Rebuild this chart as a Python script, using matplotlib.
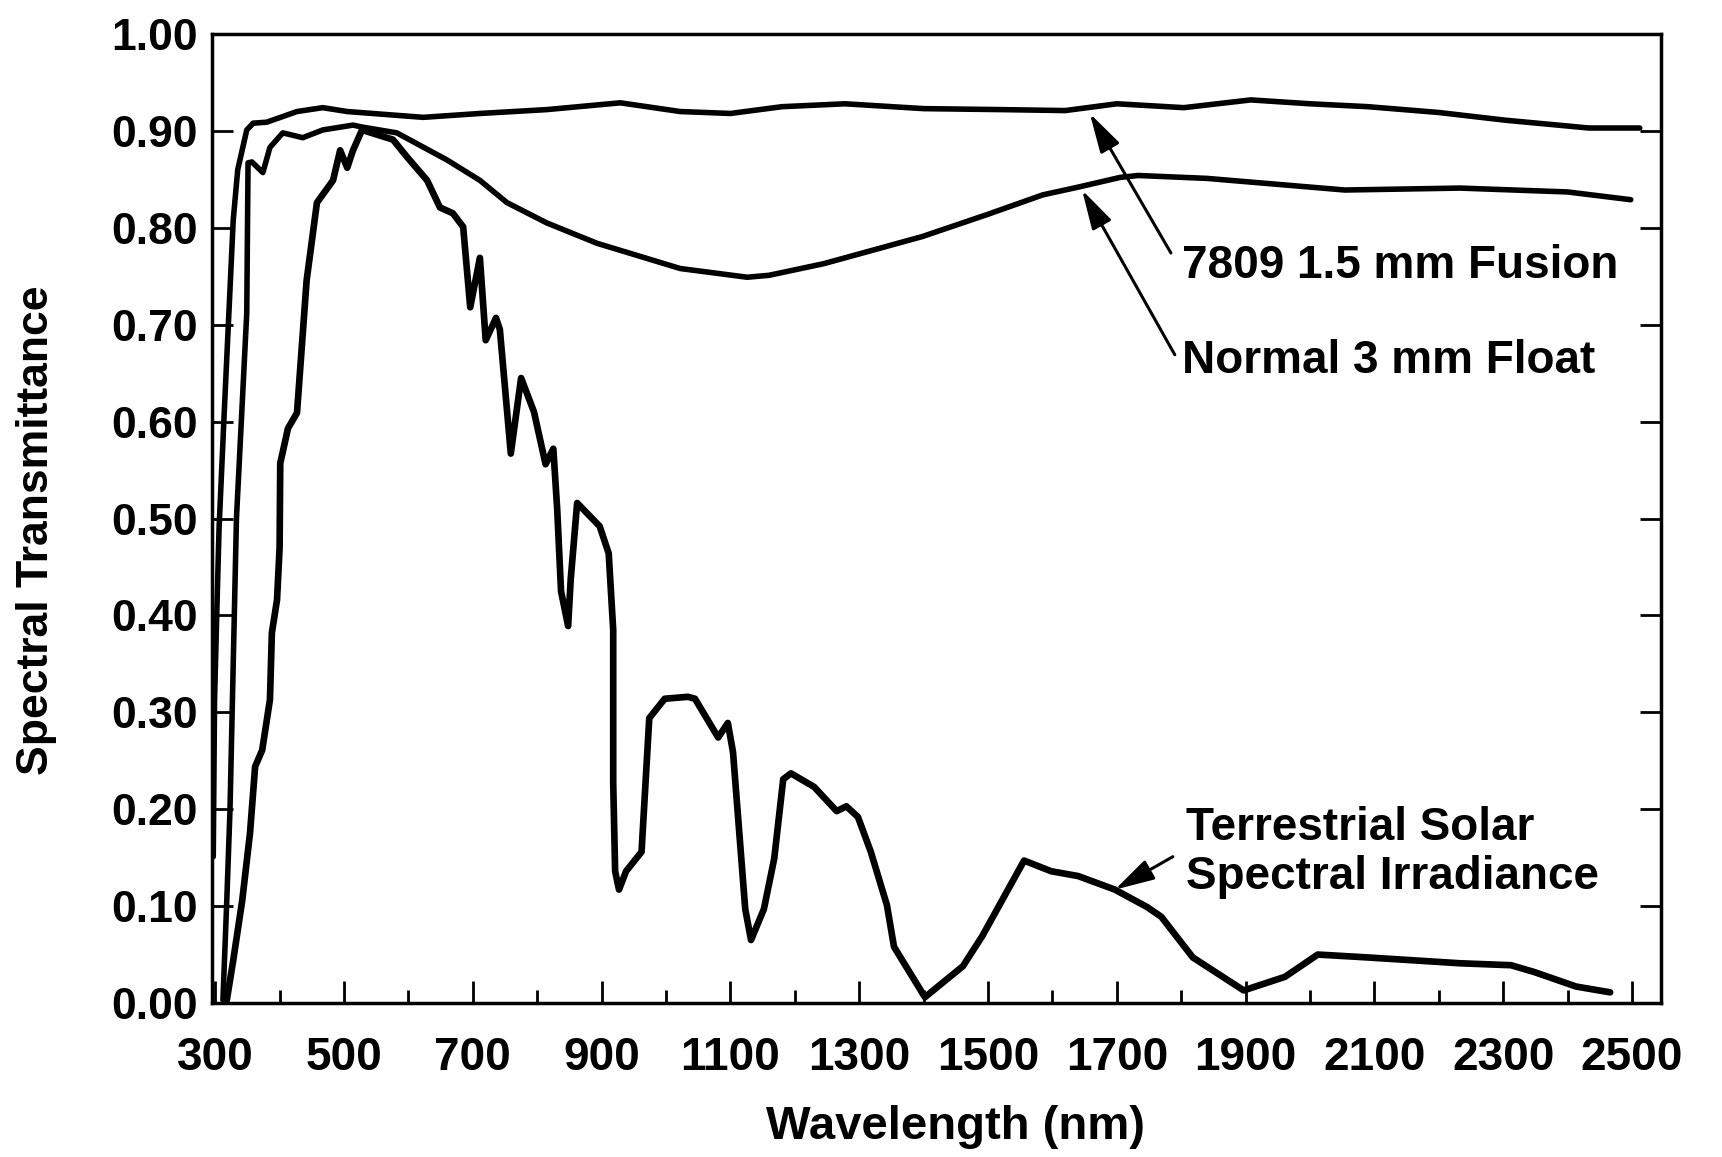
import numpy as np
import matplotlib.pyplot as plt

# 7809 1.5 mm Fusion glass
fusion_nm = [297, 299, 303, 306, 314, 328, 335, 349, 359, 380, 427, 467, 505, 623, 711, 815,
             929, 1022, 1100, 1180, 1278, 1400, 1519, 1620, 1700, 1804, 1908, 2000, 2090,
             2200, 2304, 2433, 2512]
fusion_t = [0.151, 0.313, 0.416, 0.49, 0.609, 0.808, 0.860, 0.901, 0.908, 0.909, 0.920, 0.924,
            0.920, 0.914, 0.918, 0.922, 0.929, 0.920, 0.918, 0.925, 0.928, 0.923, 0.922, 0.921,
            0.928, 0.924, 0.932, 0.928, 0.925, 0.919, 0.911, 0.903, 0.903]

# Normal 3 mm Float glass
float_nm = [312, 318, 323, 333, 349, 351, 357, 374, 385, 405, 436, 467, 514, 528, 582, 660,
            711, 753, 815, 893, 1022, 1126, 1160, 1245, 1398, 1500, 1585, 1640, 1705, 1733,
            1840, 2054, 2233, 2400, 2498]
float_t = [0.003, 0.106, 0.200, 0.50, 0.712, 0.867, 0.868, 0.857, 0.883, 0.898, 0.893, 0.901,
           0.906, 0.904, 0.898, 0.870, 0.849, 0.826, 0.805, 0.784, 0.758, 0.749, 0.751, 0.763,
           0.791, 0.814, 0.834, 0.842, 0.852, 0.854, 0.851, 0.839, 0.841, 0.837, 0.829]

# Terrestrial solar spectral irradiance (relative)
solar_nm = [318, 328, 342, 354, 362, 373, 385, 388, 396, 400, 401, 413, 427, 442, 458, 483,
            494, 505, 514, 528, 576, 598, 629, 649, 669, 685, 696, 711, 720, 736, 742, 759,
            775, 795, 813, 825, 831, 837, 848, 852, 862, 897, 911, 918, 918, 921, 927, 938,
            962, 974, 998, 1034, 1045, 1081, 1096, 1104, 1123, 1132, 1152, 1168, 1182, 1194,
            1230, 1265, 1280, 1298, 1318, 1343, 1354, 1402, 1461, 1491, 1556, 1598, 1640,
            1697, 1747, 1769, 1818, 1897, 1961, 2012, 2090, 2233, 2312, 2348, 2413, 2466]
solar_t = [0.003, 0.044, 0.106, 0.175, 0.244, 0.261, 0.313, 0.382, 0.416, 0.47, 0.557, 0.593,
           0.609, 0.746, 0.826, 0.849, 0.880, 0.862, 0.880, 0.901, 0.891, 0.873, 0.849, 0.821,
           0.815, 0.801, 0.718, 0.769, 0.684, 0.707, 0.695, 0.567, 0.645, 0.610, 0.556, 0.572,
           0.510, 0.425, 0.389, 0.437, 0.516, 0.492, 0.464, 0.385, 0.227, 0.136, 0.117, 0.136,
           0.156, 0.294, 0.314, 0.316, 0.314, 0.274, 0.289, 0.259, 0.097, 0.065, 0.097, 0.149,
           0.231, 0.237, 0.223, 0.198, 0.203, 0.192, 0.156, 0.101, 0.058, 0.006, 0.038, 0.069,
           0.147, 0.136, 0.131, 0.117, 0.099, 0.089, 0.047, 0.013, 0.027, 0.050, 0.047, 0.041,
           0.039, 0.032, 0.017, 0.011]

x_labels = [300, 500, 700, 900, 1100, 1300, 1500, 1700, 1900, 2100, 2300, 2500]
x_minor = [400, 600, 800, 1000, 1200, 1400, 1600, 1800, 2000, 2200, 2400]
y_ticks = [0.0, 0.1, 0.2, 0.3, 0.4, 0.5, 0.6, 0.7, 0.8, 0.9, 1.0]

plt.rcParams['font.family'] = ['Liberation Sans', 'DejaVu Sans']
plt.rcParams['font.weight'] = 'bold'

fig = plt.figure(figsize=(17.22, 11.57), dpi=100)
ax = fig.add_axes([0.1231, 0.1331, 0.8415, 0.8375])

line_kw = dict(color='black', solid_joinstyle='round', solid_capstyle='round')
ax.plot(fusion_nm, fusion_t, lw=4.0, **line_kw)
ax.plot(float_nm, float_t, lw=4.0, **line_kw)
ax.plot(solar_nm, solar_t, lw=4.8, **line_kw)

ax.set_xlim(295, 2545)
ax.set_ylim(0, 1.0)

for s in ax.spines.values():
    s.set_linewidth(2.5)

ax.set_xticks(x_labels)
ax.set_xticklabels([str(v) for v in x_labels], fontsize=33, fontweight='bold')
ax.set_xticks(x_minor, minor=True)
ax.set_yticks(y_ticks)
ax.set_yticklabels(['%.2f' % v for v in y_ticks], fontsize=32, fontweight='bold')

ax.tick_params(axis='x', which='major', direction='in', length=16, width=2, pad=24)
ax.tick_params(axis='x', which='minor', direction='in', length=9.5, width=2)
ax.tick_params(axis='y', which='major', direction='in', length=15, width=2, pad=10,
               right=True)

ax.set_xlabel('Wavelength (nm)', fontsize=34, fontweight='bold')
ax.xaxis.set_label_coords(0.513, -0.105)
ax.set_ylabel('Spectral Transmittance', fontsize=32, fontweight='bold')
ax.yaxis.set_label_coords(-0.107, 0.488)

arrow_kw = dict(arrowstyle='-|>,head_length=1.1,head_width=0.3', color='black', lw=2.2,
                mutation_scale=22, shrinkA=0, shrinkB=0)
ax.annotate('', xy=(1658, 0.918), xytext=(1784, 0.774), arrowprops=arrow_kw)
ax.annotate('', xy=(1646, 0.839), xytext=(1790, 0.669), arrowprops=arrow_kw)
ax.annotate('', xy=(1697, 0.117), xytext=(1787, 0.151), arrowprops=arrow_kw)

txt_kw = dict(fontsize=33, fontweight='bold', ha='left', va='center')
ax.text(1801, 0.761, '7809 1.5 mm Fusion', **txt_kw)
ax.text(1801, 0.663, 'Normal 3 mm Float', **txt_kw)
ax.text(1807, 0.181, 'Terrestrial Solar', **txt_kw)
ax.text(1807, 0.130, 'Spectral Irradiance', **txt_kw)

plt.savefig('out.png', dpi=100)
